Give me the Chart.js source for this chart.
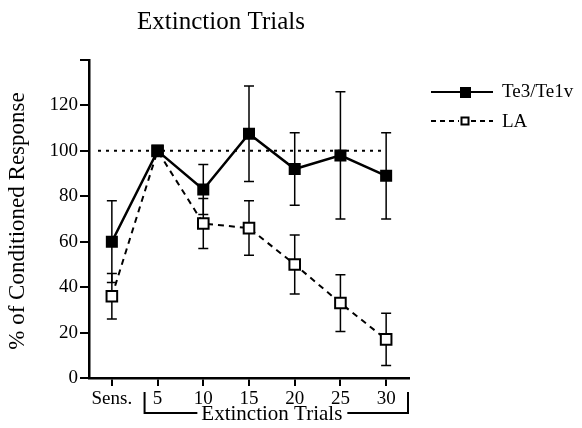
<!DOCTYPE html>
<html>
<head>
<meta charset="utf-8">
<script src="https://cdn.jsdelivr.net/npm/chart.js@4"></script>
<style>
html,body{margin:0;padding:0;background:#fff;}
#wrap{width:582px;height:428px;position:relative;}
</style>
</head>
<body>
<div id="wrap"><canvas id="c" width="582" height="428"></canvas></div>
<script>
const categories = ['Sens.', '5', '10', '15', '20', '25', '30'];
const te3Values = [60, 100, 83, 107.5, 92, 98, 89];
const te3Errors = [18, 0, 11, 21, 16, 28, 19];
const laValues = [36, 100, 68, 66, 50, 33, 17];
const laErrors = [10, 0, 11, 12, 13, 12.5, 11.5];
const yTicks = [0, 20, 40, 60, 80, 100, 120, 140];
const referenceValue = 100;
const seriesNames = ['Te3/Te1v', 'LA'];
const titleText = 'Extinction Trials';
const yTitleText = '% of Conditioned Response';
const bracketText = 'Extinction Trials';

const SERIF = '"Liberation Serif", "DejaVu Serif", serif';

const extras = {
  id: 'extras',
  beforeDatasetsDraw(chart) {
    const ctx = chart.ctx, x = chart.scales.x, y = chart.scales.y, ca = chart.chartArea;
    ctx.save();
    ctx.strokeStyle = '#000';
    ctx.lineWidth = 2;
    ctx.setLineDash([3, 5]);
    const yr = y.getPixelForValue(referenceValue);
    ctx.beginPath();
    ctx.moveTo(ca.left + 9, yr);
    ctx.lineTo(x.getPixelForValue(categories.length - 1), yr);
    ctx.stroke();
    ctx.setLineDash([]);
    ctx.lineWidth = 1.5;
    const drawErr = (vals, errs) => {
      vals.forEach((v, i) => {
        const e = errs[i];
        if (!e) return;
        const px = x.getPixelForValue(i);
        const yt = y.getPixelForValue(v + e), yb = y.getPixelForValue(v - e);
        ctx.beginPath();
        ctx.moveTo(px, yt); ctx.lineTo(px, yb);
        ctx.moveTo(px - 5, yt); ctx.lineTo(px + 5, yt);
        ctx.moveTo(px - 5, yb); ctx.lineTo(px + 5, yb);
        ctx.stroke();
      });
    };
    drawErr(te3Values, te3Errors);
    drawErr(laValues, laErrors);
    ctx.restore();
  },
  afterDraw(chart) {
    const ctx = chart.ctx, x = chart.scales.x, ca = chart.chartArea;
    ctx.save();
    ctx.fillStyle = '#000';
    ctx.strokeStyle = '#000';
    ctx.font = '25px ' + SERIF;
    ctx.textAlign = 'center';
    ctx.textBaseline = 'alphabetic';
    ctx.fillText(titleText, 221, 29);
    ctx.save();
    ctx.translate(24, (ca.top + ca.bottom) / 2 + 2);
    ctx.rotate(-Math.PI / 2);
    ctx.font = '23px ' + SERIF;
    ctx.textAlign = 'center';
    ctx.fillText(yTitleText, 0, 0);
    ctx.restore();
    const xl = x.getPixelForValue(1) - 13;
    const xr = ca.right - 1;
    const xm = (x.getPixelForValue(3) + x.getPixelForValue(4)) / 2;
    const yTop = 392, yBot = 413;
    ctx.font = '21px ' + SERIF;
    const tw = ctx.measureText(bracketText).width;
    ctx.lineWidth = 2;
    ctx.beginPath();
    ctx.moveTo(xl, yTop); ctx.lineTo(xl, yBot); ctx.lineTo(xm - tw / 2 - 4, yBot);
    ctx.moveTo(xm + tw / 2 + 5, yBot); ctx.lineTo(xr, yBot); ctx.lineTo(xr, yTop);
    ctx.stroke();
    ctx.textAlign = 'center';
    ctx.textBaseline = 'alphabetic';
    ctx.fillText(bracketText, xm, 420);
    ctx.font = '19px ' + SERIF;
    ctx.textAlign = 'left';
    let ly = 92;
    ctx.lineWidth = 2;
    ctx.setLineDash([]);
    ctx.beginPath(); ctx.moveTo(431, ly); ctx.lineTo(493, ly); ctx.stroke();
    ctx.fillRect(460, ly - 5, 11, 11);
    ctx.fillText(seriesNames[0], 502, ly + 5);
    ly = 121;
    ctx.setLineDash([5, 4]);
    ctx.beginPath(); ctx.moveTo(431, ly); ctx.lineTo(459, ly); ctx.moveTo(471, ly); ctx.lineTo(493, ly); ctx.stroke();
    ctx.setLineDash([]);
    ctx.fillStyle = '#fff';
    ctx.fillRect(461.5, ly - 3.5, 7, 7);
    ctx.strokeRect(461.5, ly - 3.5, 7, 7);
    ctx.fillStyle = '#000';
    ctx.fillText(seriesNames[1], 502, ly + 6);
    ctx.restore();
  }
};

new Chart(document.getElementById('c'), {
  type: 'line',
  data: {
    labels: categories,
    datasets: [
      {
        label: seriesNames[0],
        data: te3Values,
        borderColor: '#000',
        borderWidth: 2.5,
        backgroundColor: '#000',
        pointStyle: 'rect',
        pointRadius: 8.5,
        pointBorderWidth: 0,
        pointBackgroundColor: '#000',
        tension: 0
      },
      {
        label: seriesNames[1],
        data: laValues,
        borderColor: '#000',
        borderWidth: 2,
        borderDash: [6, 5],
        pointStyle: 'rect',
        pointRadius: 7.5,
        pointBorderWidth: 2,
        pointBorderColor: '#000',
        pointBackgroundColor: '#fff',
        tension: 0
      }
    ]
  },
  options: {
    responsive: false,
    animation: false,
    devicePixelRatio: 1,
    layout: { padding: { top: 60, right: 173, left: 0, bottom: 0 } },
    plugins: { legend: { display: false }, title: { display: false }, tooltip: { enabled: false } },
    scales: {
      x: {
        type: 'category',
        offset: true,
        afterFit(s) { s.height = 50; },
        grid: { display: true, drawOnChartArea: false, drawTicks: true, tickLength: 8, offset: false, color: '#000', lineWidth: 2 },
        border: { display: true, color: '#000', width: 2.5 },
        ticks: { color: '#000', font: { family: SERIF, size: 19 }, padding: 2, maxRotation: 0, autoSkip: false }
      },
      y: {
        min: 0,
        max: 140,
        afterFit(s) { s.width = 89; },
        afterBuildTicks(s) { s.ticks = yTicks.map(v => ({ value: v })); },
        grid: { display: true, drawOnChartArea: false, drawTicks: true, tickLength: 9, color: '#000', lineWidth: 2 },
        border: { display: true, color: '#000', width: 2.5 },
        ticks: {
          color: '#000', font: { family: SERIF, size: 19 }, padding: 2,
          callback: (v) => (v === 140 ? '' : String(v))
        }
      }
    }
  },
  plugins: [extras]
});
</script>
</body>
</html>
